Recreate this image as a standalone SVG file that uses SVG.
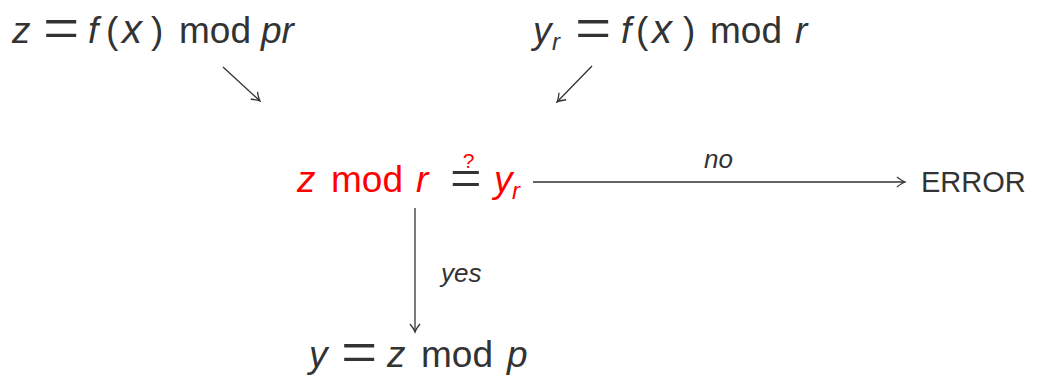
<svg xmlns="http://www.w3.org/2000/svg" width="1048" height="378" viewBox="0 0 1048 378">
<style>
.t{font-family:"Liberation Sans",Arial,sans-serif;font-size:37px;fill:#333}
.red{fill:#ff0000}
.i{font-style:italic}
.x{font-style:italic;font-size:40px}
.sub{font-size:24px;font-style:italic}
.lbl{font-family:"Liberation Sans",Arial,sans-serif;font-size:26px;font-style:italic;fill:#333}
.err{font-family:"Liberation Sans",Arial,sans-serif;font-size:29px;fill:#333}
.eq{font-family:"Liberation Serif","Times New Roman",serif;font-size:56px;fill:#333}
.c{stroke:#333;stroke-width:1.3;fill:none;marker-end:url(#ah)}
</style>
<defs>
<marker id="ah" markerUnits="userSpaceOnUse" viewBox="-12 -10 14 20" markerWidth="14" markerHeight="20" refX="0" refY="0" orient="auto">
<path d="M-8,-5 Q-3,-1 0,0 Q-3,1 -8,5" stroke="#333" stroke-width="1.3" fill="none"/>
</marker>
</defs>
<g id="node-z">
<text class="t" y="43"><tspan class="i" x="12">z</tspan><tspan class="i" x="88">f</tspan><tspan x="106">(</tspan><tspan class="x" x="122">x</tspan><tspan x="151">)</tspan><tspan x="179">mod</tspan><tspan class="i" x="261">pr</tspan></text>
<text class="eq" transform="translate(43,51) scale(1.15,1.2)">=</text>
</g>
<g id="node-yr">
<text class="t" y="43"><tspan class="i" x="533">y</tspan><tspan class="sub" x="552" y="50">r</tspan><tspan class="i" x="621" y="43">f</tspan><tspan x="636">(</tspan><tspan class="x" x="652">x</tspan><tspan x="683">)</tspan><tspan x="710">mod</tspan><tspan class="i" x="795">r</tspan></text>
<text class="eq" transform="translate(575,51) scale(1.15,1.2)">=</text>
</g>
<g id="node-check">
<text class="t red" y="192"><tspan class="i" x="297">z</tspan><tspan x="331">mod</tspan><tspan class="i" x="416">r</tspan><tspan class="i" x="494">y</tspan><tspan class="sub" x="512" y="199">r</tspan></text>
<text class="eq red" transform="translate(450,198) scale(1,1.05)">=</text>
<text class="t red" x="468.5" y="168" style="font-size:21px;text-anchor:middle">?</text>
</g>
<g id="node-error">
<text class="err" x="921" y="192">ERROR</text>
</g>
<g id="node-y">
<text class="t" y="367"><tspan class="i" x="309">y</tspan><tspan class="i" x="387">z</tspan><tspan x="421">mod</tspan><tspan class="i" x="507">p</tspan></text>
<text class="eq" transform="translate(341,375) scale(1.15,1.2)">=</text>
</g>
<g id="connectors">
<line class="c" x1="223" y1="67" x2="260" y2="101"/>
<line class="c" x1="592" y1="66" x2="557" y2="102"/>
<line class="c" x1="533" y1="182" x2="905" y2="182"/>
<line class="c" x1="415" y1="208" x2="415" y2="332"/>
<text class="lbl" x="704" y="168">no</text>
<text class="lbl" x="441" y="282">yes</text>
</g>
</svg>
